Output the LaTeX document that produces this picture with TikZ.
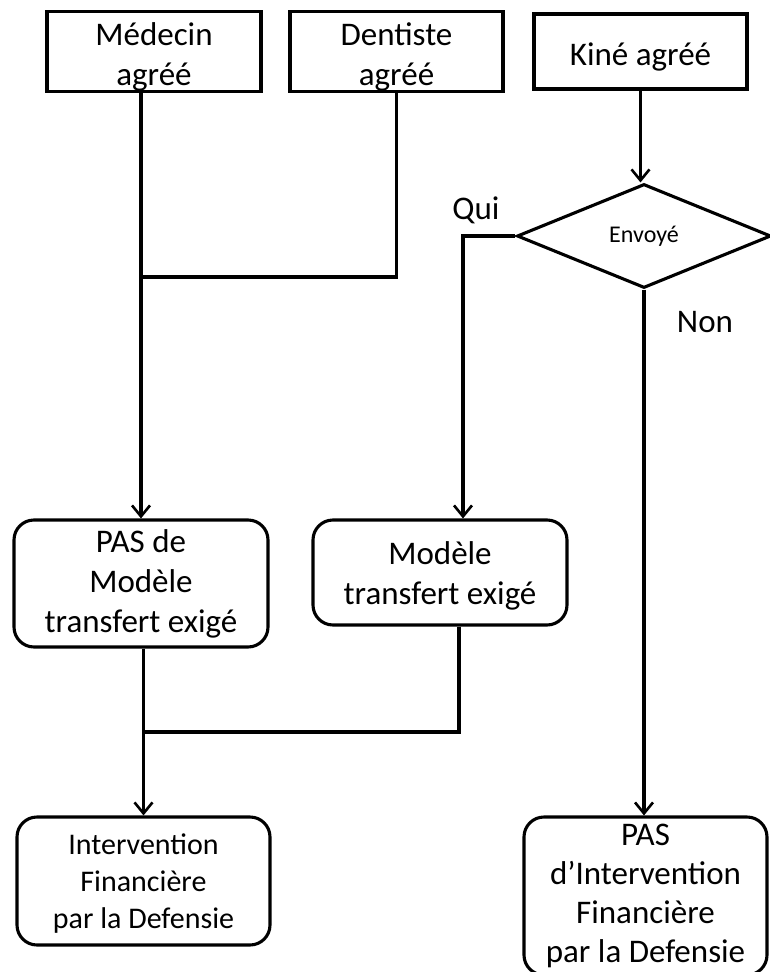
\documentclass[tikz,border=0pt]{standalone}
\usepackage{fontspec}
\setmainfont{Carlito}
\usetikzlibrary{arrows.meta,shapes.geometric}
\newcommand\myup[1]{\rule{0pt}{#1}}
\begin{document}
\begin{tikzpicture}[x=1pt,y=-1pt,
  lw/.style={line width=3.1pt},
  sqbox/.style={lw,draw,rectangle,inner sep=0pt,align=center,font=\fontsize{33}{40}\selectfont},
  rbox/.style={lw,draw,rectangle,rounded corners=20pt,inner sep=0pt,align=center,font=\fontsize{33}{40}\selectfont},
  conn/.style={lw,line join=miter},
  arr/.style={conn,-{Straight Barb[length=11pt,width=18pt,line width=2.6pt]}},
  lbl/.style={font=\fontsize{33}{40}\selectfont,inner sep=0pt}
]
\useasboundingbox (0,0) rectangle (770,972);
\fill[white] (0,0) rectangle (770,972);
% top boxes
\node[sqbox,minimum width=214pt,minimum height=75pt] (med) at (154,51.5) {\myup{34pt}Médecin\\agréé};
\node[sqbox,minimum width=213pt,minimum height=75pt] (den) at (396.5,51.5) {\myup{34pt}Dentiste\\agréé};
\node[sqbox,minimum width=213pt,minimum height=75pt] (kine) at (640.5,51.5) {\myup{34pt}Kiné agréé};
% decision
\node[lw,draw,diamond,shape aspect=2.44,inner sep=0pt,minimum width=254pt,minimum height=104pt,font=\fontsize{24}{28}\selectfont] (env) at (644,236) {Envoyé};
% middle boxes
\node[rbox,minimum width=254pt,minimum height=127pt] (pasde) at (141,583.5) {PAS de\\Modèle\\transfert exigé};
\node[rbox,minimum width=254pt,minimum height=105pt] (mod) at (440,572.5) {\myup{30pt}Modèle\\transfert exigé};
% bottom boxes
\node[rbox,minimum width=253pt,minimum height=128pt,font=\fontsize{30}{37}\selectfont] (int) at (143.5,881) {\myup{26pt}Intervention\\Financière\\par la Defensie};
\node[rbox,minimum width=243pt,minimum height=158pt,font=\fontsize{33}{39}\selectfont] (pasint) at (645.5,896) {PAS\\d’Intervention\\Financière\\par la Defensie};
% labels
\node[lbl] (qui) at (476,210) {Qui};
\node[lbl] (non) at (705,322) {Non};
% junctions
\coordinate (j1) at (141,277);
\coordinate (jq) at (463,236);
\coordinate (j2) at (143.5,732);
% connectors
\draw[arr] (med.south -| pasde.north) -- (pasde.north);
\draw[conn] (den.south) -- (den.south |- j1) -- (j1);
\draw[arr] (kine.south) -- (kine.south |- env.north);
\draw[arr] (env.west) -- (jq) -- (jq |- mod.north);
\draw[arr] (env.south) -- (env.south |- pasint.north);
\draw[arr] (pasde.south -| int.north) -- (int.north);
\draw[conn] (mod.south -| 459,0) -- (459,732) -- (j2);
\end{tikzpicture}
\end{document}
